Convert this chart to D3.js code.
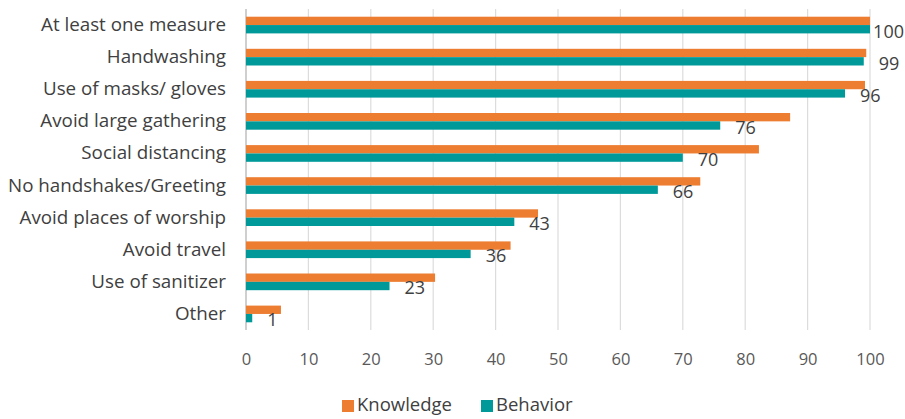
<!DOCTYPE html>
<html>
<head>
<meta charset="utf-8">
<script src="https://cdn.jsdelivr.net/npm/d3@7"></script>
<style>
  html, body { margin: 0; padding: 0; background: #fff; }
  svg { display: block; font-family: "Open Sans", "Liberation Sans", sans-serif; }
</style>
</head>
<body>
<svg id="chart" width="905" height="419"></svg>
<script>
// Preventive measures: share of respondents (%) by knowledge and reported behavior
const categories = [
  "At least one measure",
  "Handwashing",
  "Use of masks/ gloves",
  "Avoid large gathering",
  "Social distancing",
  "No handshakes/Greeting",
  "Avoid places of worship",
  "Avoid travel",
  "Use of sanitizer",
  "Other"
];
const knowledge = [100, 99.4, 99.2, 87.2, 82.2, 72.8, 46.8, 42.4, 30.3, 5.6];
const behavior  = [100, 99, 96, 76, 70, 66, 43, 36, 23, 1];
const seriesNames = ["Knowledge", "Behavior"];
const seriesColors = ["#ED7D31", "#009999"];
const xTicks = [0, 10, 20, 30, 40, 50, 60, 70, 80, 90, 100];

const W = 905, H = 419;
const svg = d3.select("#chart");

const x = d3.scaleLinear().domain([0, 100]).range([246, 870]);
const y = d3.scaleBand().domain(categories).range([9, 330]).padding(0);
const bw = y.bandwidth();
const ySub = d3.scaleBand().domain(seriesNames).range([bw * 0.24, bw * 0.76]).padding(0);
const color = d3.scaleOrdinal().domain(seriesNames).range(seriesColors);

// vertical gridlines
svg.append("g")
  .selectAll("line")
  .data(xTicks)
  .join("line")
  .attr("x1", d => x(d)).attr("x2", d => x(d))
  .attr("y1", 9).attr("y2", 330)
  .attr("stroke", d => d === 0 ? "#CFCFCF" : "#DCDCDC")
  .attr("stroke-width", d => d === 0 ? 2 : 1.2);

// x-axis tick labels
const xAxis = d3.axisBottom(x).tickValues(xTicks).tickSize(0).tickPadding(0);
const gx = svg.append("g").attr("transform", "translate(0,359)").call(xAxis);
gx.select(".domain").remove();
gx.selectAll("text")
  .attr("dy", "0.35em")
  .attr("font-size", 16.5)
  .attr("font-family", "Open Sans, sans-serif")
  .attr("fill", "#595959");

// category labels
const yAxis = d3.axisLeft(y).tickSize(0).tickPadding(0);
const gy = svg.append("g").attr("transform", "translate(226,0)").call(yAxis);
gy.select(".domain").remove();
gy.selectAll("text")
  .attr("font-size", 18.8)
  .attr("font-family", "Open Sans, sans-serif")
  .attr("fill", "#404040");

// bars
const rows = categories.map((c, i) => ({ cat: c, values: [
  { key: "Knowledge", value: knowledge[i] },
  { key: "Behavior", value: behavior[i] }
]}));

const rowG = svg.append("g")
  .selectAll("g")
  .data(rows)
  .join("g")
  .attr("transform", d => `translate(0,${y(d.cat)})`);

rowG.selectAll("rect")
  .data(d => d.values)
  .join("rect")
  .attr("x", x(0))
  .attr("y", d => ySub(d.key))
  .attr("width", d => x(d.value) - x(0))
  .attr("height", ySub.bandwidth())
  .attr("fill", d => color(d.key));

// value labels for the Behavior series
const labels = rowG.append("text")
  .text((d, i) => behavior[i])
  .attr("font-size", 18)
  .attr("font-family", "Open Sans, sans-serif")
  .attr("fill", "#404040")
  .attr("y", ySub("Behavior") + ySub.bandwidth() / 2 + 2)
  .attr("dy", "0.35em")
  .attr("x", (d, i) => x(behavior[i]) + 15);

// keep labels inside the chart area
labels.each(function () {
  const t = d3.select(this);
  const w = this.getComputedTextLength();
  const cx = +t.attr("x");
  if (cx + w > W - 1) t.attr("x", W - 1 - w);
});

// legend
const legend = svg.append("g").attr("transform", "translate(342,405)");
const legendX = [0, 139];
seriesNames.forEach((s, i) => {
  const g = legend.append("g").attr("transform", `translate(${legendX[i]},0)`);
  g.append("rect").attr("x", 0).attr("y", -5).attr("width", 12).attr("height", 12).attr("fill", color(s));
  g.append("text").attr("x", 15).attr("y", 0).attr("dy", "0.35em")
    .attr("font-size", 18.5).attr("fill", "#404040").text(s);
});
</script>
</body>
</html>
